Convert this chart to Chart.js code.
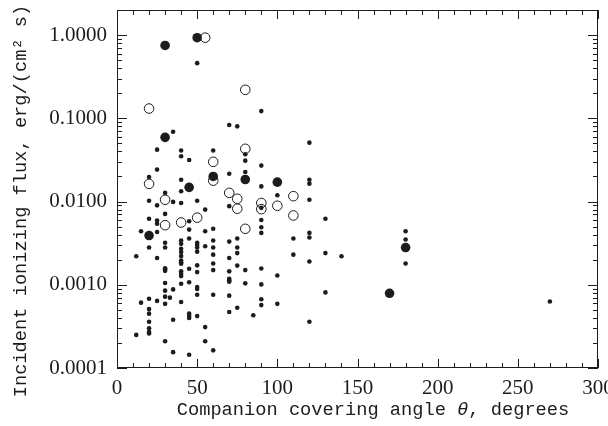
<!DOCTYPE html>
<html>
<head>
<meta charset="utf-8">
<script src="https://cdn.jsdelivr.net/npm/chart.js@4"></script>
<style>
  html, body { margin: 0; padding: 0; background: #fff; }
  #wrap { width: 608px; height: 426px; }
</style>
</head>
<body>
<div id="wrap"><canvas id="fluxChart"></canvas></div>
<script>
// Small dots: companion covering angle (deg) and incident flux
const dotAngle = [
  12, 12,
  15, 15,
  20, 20, 20, 20, 20, 20, 20, 20, 20, 20, 20,
  25, 25, 25, 25, 25, 25, 25, 25,
  30, 30, 30, 30, 30, 30, 30, 30, 30, 30, 30, 30,
  33,
  35, 35, 35, 35, 35,
  40, 40, 40, 40, 40, 40, 40, 40, 40, 40, 40, 40, 40, 40, 40, 40, 40, 40,
  45, 45, 45, 45, 45, 45, 45, 45, 45, 45,
  50, 50, 50, 50, 50, 50, 50, 50, 50, 50, 50, 50,
  55, 55, 55, 55, 55,
  60, 60, 60, 60, 60, 60, 60, 60, 60,
  70, 70, 70, 70, 70, 70, 70, 70, 70, 70, 70,
  75, 75, 75, 75, 75, 75,
  80, 80, 80, 80, 80,
  85,
  90, 90, 90, 90, 90, 90, 90, 90, 90, 90, 90,
  100, 100, 100,
  110, 110,
  120, 120, 120, 120, 120, 120, 120, 120,
  130, 130, 130,
  140,
  180, 180, 180,
  270
];
const dotFlux = [
  0.0022, 0.00025,
  0.0044, 0.00061,
  0.0197, 0.0102, 0.0062, 0.0028, 0.00068, 0.00051, 0.00045, 0.00036, 0.00030, 0.00027, 0.00026,
  0.042, 0.0242, 0.0090, 0.0059, 0.0054, 0.0043, 0.0021, 0.00064,
  0.0127, 0.0071, 0.0032, 0.0028, 0.00158, 0.00153, 0.00147, 0.00105, 0.00085, 0.00072, 0.00059, 0.00021,
  0.00070,
  0.069, 0.0099, 0.00088, 0.00038, 0.000155,
  0.041, 0.035, 0.0183, 0.0133, 0.0096, 0.0034, 0.0031, 0.0027, 0.00247, 0.00221, 0.00196, 0.00187, 0.00179, 0.00145, 0.00136, 0.00127, 0.00103, 0.00062,
  0.0315, 0.0058, 0.0046, 0.0036, 0.00156, 0.00107, 0.00045, 0.00042, 0.00040, 0.000144,
  0.46, 0.0102, 0.0032, 0.0030, 0.0028, 0.0025, 0.00171, 0.00142, 0.00094, 0.00089, 0.00076, 0.00042,
  0.0080, 0.0044, 0.0029, 0.00031, 0.00021,
  0.041, 0.0047, 0.0034, 0.0028, 0.0023, 0.0018, 0.0015, 0.00076, 0.000163,
  0.083, 0.0216, 0.0088, 0.0033, 0.0021, 0.00145, 0.00118, 0.00113, 0.00109, 0.00074, 0.00047,
  0.080, 0.0036, 0.0028, 0.0024, 0.0017, 0.00053,
  0.037, 0.031, 0.0226, 0.0015, 0.00104,
  0.00043,
  0.122, 0.027, 0.0152, 0.0084, 0.0060, 0.0049, 0.0042, 0.00157, 0.00101, 0.00067, 0.00057,
  0.0119, 0.00129, 0.00059,
  0.0036, 0.0023,
  0.051, 0.0183, 0.0164, 0.0105, 0.0042, 0.0037, 0.0019, 0.00036,
  0.0062, 0.0024, 0.00081,
  0.0022,
  0.0044, 0.0035, 0.0018,
  0.00063
];

// Large filled circles
const filledAngle = [20, 30, 30, 45, 50, 60, 80, 100, 170, 180];
const filledFlux = [0.0039, 0.75, 0.059, 0.0148, 0.93, 0.020, 0.0184, 0.0171, 0.00079, 0.0028];

// Large open circles
const openAngle = [20, 20, 30, 30, 40, 50, 55, 60, 60, 70, 75, 75, 80, 80, 80, 90, 90, 100, 110, 110];
const openFlux = [0.131, 0.0163, 0.0105, 0.0052, 0.0056, 0.0064, 0.93, 0.030, 0.0178, 0.0127, 0.0108, 0.0082, 0.22, 0.043, 0.0047, 0.0096, 0.0081, 0.0089, 0.0116, 0.0068];

// Axis ranges / ticks / titles
const xMin = 0, xMax = 300, xStep = 50, xMinorStep = 10;
const yMin = 0.0001, yMax = 2;
const yMajorTicks = [0.0001, 0.001, 0.01, 0.1, 1];
const xTitleParts = ["Companion covering angle ", "θ", ", degrees"];
const yTitle = "Incident ionizing flux, erg/(cm² s)";

const ink = "#1c1c1c";
const titleFont = "18.7px 'Liberation Mono'";

function toPoints(xs, ys) {
  return xs.map((x, i) => ({ x: x, y: ys[i] }));
}

// draw the box and the inward IDL-style tick marks, plus axis titles
const frameTicks = {
  id: "frameTicks",
  afterDatasetsDraw(chart) {
    const { ctx, chartArea: a, scales } = chart;
    const x = scales.x, y = scales.y;
    ctx.save();
    ctx.strokeStyle = ink;
    ctx.lineWidth = 1;
    ctx.strokeRect(a.left + 0.5, a.top + 0.5, a.width - 1, a.height - 1);
    ctx.beginPath();
    for (let v = xMin; v <= xMax; v += xMinorStep) {
      const px = Math.round(x.getPixelForValue(v)) + 0.5;
      const len = v % xStep === 0 ? 9 : 5;
      ctx.moveTo(px, a.bottom); ctx.lineTo(px, a.bottom - len);
      ctx.moveTo(px, a.top); ctx.lineTo(px, a.top + len);
    }
    yMajorTicks.forEach(base => {
      for (let k = 1; k <= 9; k++) {
        const v = base * k;
        if (v > yMax) break;
        const py = Math.round(y.getPixelForValue(v)) + 0.5;
        const len = k === 1 ? 10 : 5;
        ctx.moveTo(a.left, py); ctx.lineTo(a.left + len, py);
        ctx.moveTo(a.right, py); ctx.lineTo(a.right - len, py);
      }
    });
    ctx.stroke();

    // x title, theta in italic
    ctx.fillStyle = ink;
    ctx.textBaseline = "middle";
    ctx.textAlign = "left";
    const fonts = [titleFont, "italic " + titleFont, titleFont];
    let total = 0;
    xTitleParts.forEach((t, i) => { ctx.font = fonts[i]; total += ctx.measureText(t).width; });
    let tx = 373 - total / 2;
    xTitleParts.forEach((t, i) => {
      ctx.font = fonts[i];
      ctx.fillText(t, tx, 410);
      tx += ctx.measureText(t).width;
    });

    // y title, rotated
    ctx.translate(21, 201);
    ctx.rotate(-Math.PI / 2);
    ctx.font = titleFont;
    ctx.textAlign = "center";
    ctx.fillText(yTitle, 0, 0);
    ctx.restore();
  }
};

const ctx = document.getElementById("fluxChart").getContext("2d");

new Chart(ctx, {
  type: "scatter",
  data: {
    datasets: [
      {
        label: "open",
        data: toPoints(openAngle, openFlux),
        pointRadius: 4.8,
        pointBackgroundColor: "rgba(0,0,0,0)",
        pointBorderColor: ink,
        pointBorderWidth: 1,
      },
      {
        label: "filled",
        data: toPoints(filledAngle, filledFlux),
        pointRadius: 4.8,
        pointBackgroundColor: ink,
        pointBorderWidth: 0,
      },
      {
        label: "dots",
        data: toPoints(dotAngle, dotFlux),
        pointRadius: 2.3,
        pointBackgroundColor: ink,
        pointBorderWidth: 0,
      },
    ],
  },
  options: {
    responsive: true,
    maintainAspectRatio: false,
    animation: false,
    events: [],
    layout: { padding: { left: 0, top: 10, right: 10, bottom: 0 } },
    plugins: {
      legend: { display: false },
      tooltip: { enabled: false },
    },
    scales: {
      x: {
        type: "linear",
        min: xMin,
        max: xMax,
        grid: { display: false, drawTicks: false },
        border: { display: false },
        ticks: {
          stepSize: xStep,
          padding: 8,
          color: ink,
          maxRotation: 0,
          autoSkip: false,
          font: { family: "Liberation Serif", size: 21 },
        },
        title: { display: false },
        afterFit(scale) {
          scale.height = 58;
          scale.paddingLeft = 0;
          scale.paddingRight = 0;
        },
      },
      y: {
        type: "logarithmic",
        min: yMin,
        max: yMax,
        grid: { display: false, drawTicks: false },
        border: { display: false },
        ticks: {
          padding: 10,
          color: ink,
          autoSkip: false,
          font: { family: "Liberation Serif", size: 21 },
          callback: function (value) {
            const lg = Math.log10(value);
            if (Math.abs(lg - Math.round(lg)) < 1e-9) return Number(value).toFixed(4);
            return "";
          },
        },
        title: { display: false },
        afterFit(scale) {
          scale.width = 117;
          scale.paddingTop = 0;
          scale.paddingBottom = 0;
        },
      },
    },
  },
  plugins: [frameTicks],
});
</script>
</body>
</html>
